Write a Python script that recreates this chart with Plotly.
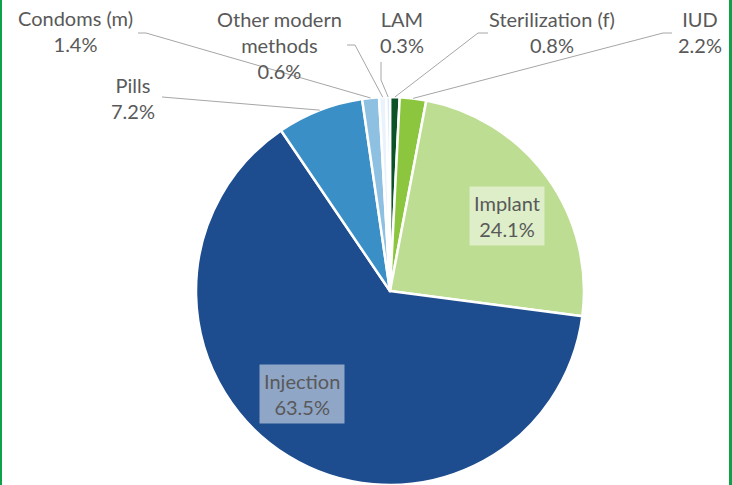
import numpy as np
import plotly.graph_objects as go

W, H = 732, 485

labels = ["Sterilization (f)", "IUD", "Implant", "Injection", "Pills",
          "Condoms (m)", "Other modern methods", "LAM"]
values = [0.8, 2.2, 24.1, 63.5, 7.2, 1.4, 0.6, 0.3]
pct_text = ["0.8%", "2.2%", "24.1%", "63.5%", "7.2%", "1.4%", "0.6%", "0.3%"]
colors = ["#0b5227", "#8cc63f", "#bddd92", "#1e4d8f", "#3a8fc7",
          "#8ec0e2", "#eaf3fb", "#cfe4f5"]

# label display text (line-broken) and label anchor positions in pixels
label_lines = ["Sterilization (f)", "IUD", "Implant", "Injection", "Pills",
               "Condoms (m)", "Other modern<br>methods", "LAM"]
label_pos = [(552, 32), (700, 32), (507, 216), (302, 394), (133, 98),
             (75, 31), (279, 45), (402, 32)]
# leader line start / elbow (pixels); None = inside label
leader = [[(488, 33), (478, 33)], [(672, 33), (663, 33)], None, None,
          [(162, 97)], [(138, 33), (146, 33)], [(347, 45), (355, 45)],
          [(381, 62), (381, 80)]]

cx, cy, R = 390, 291, 194

def px(x):
    return x / W

def py(y):
    return 1 - y / H

fig = go.Figure(go.Pie(
    labels=labels, values=values, sort=False, direction="clockwise",
    rotation=0, textinfo="none", hoverinfo="label+percent",
    marker=dict(colors=colors, line=dict(color="white", width=2.5)),
    domain=dict(x=[px(cx - R), px(cx + R)], y=[0, py(cy - R)]),
    showlegend=False,
))

total = sum(values)
cum = np.cumsum([0] + values)
mids = (cum[:-1] + cum[1:]) / 2 / total * 2 * np.pi

annotations = []
shapes = []
for i, lab in enumerate(label_lines):
    x, y = label_pos[i]
    inside = leader[i] is None
    annotations.append(dict(
        x=px(x), y=py(y), xref="paper", yref="paper",
        text=f"{lab}<br>{pct_text[i]}", showarrow=False,
        font=dict(family="Lato, Open Sans, sans-serif", size=20, color="#595959"),
        align="center", xanchor="center", yanchor="middle",
        bgcolor="rgba(255,255,255,0.5)" if inside else None,
        borderpad=4 if inside else 0,
    ))
    if not inside:
        ex = cx + R * np.sin(mids[i])
        ey = cy - R * np.cos(mids[i])
        pts = leader[i] + [(ex, ey)]
        path = "M " + " L ".join(f"{px(a)},{py(b)}" for a, b in pts)
        shapes.append(dict(type="path", xref="paper", yref="paper", path=path,
                           line=dict(color="#a6a6a6", width=1)))

# green side borders
for x0, x1 in [(0, 2), (W - 3, W)]:
    shapes.append(dict(type="rect", xref="paper", yref="paper",
                       x0=px(x0), x1=px(x1), y0=0, y1=1,
                       fillcolor="#11a04a", line=dict(width=0)))

fig.update_layout(
    width=W, height=H, margin=dict(l=0, r=0, t=0, b=0),
    paper_bgcolor="white", plot_bgcolor="white",
    annotations=annotations, shapes=shapes,
)

fig.write_html("out.html",
               config={"displayModeBar": False},
               post_script="document.body.style.margin='0';"
                           "document.body.style.overflow='hidden';")
